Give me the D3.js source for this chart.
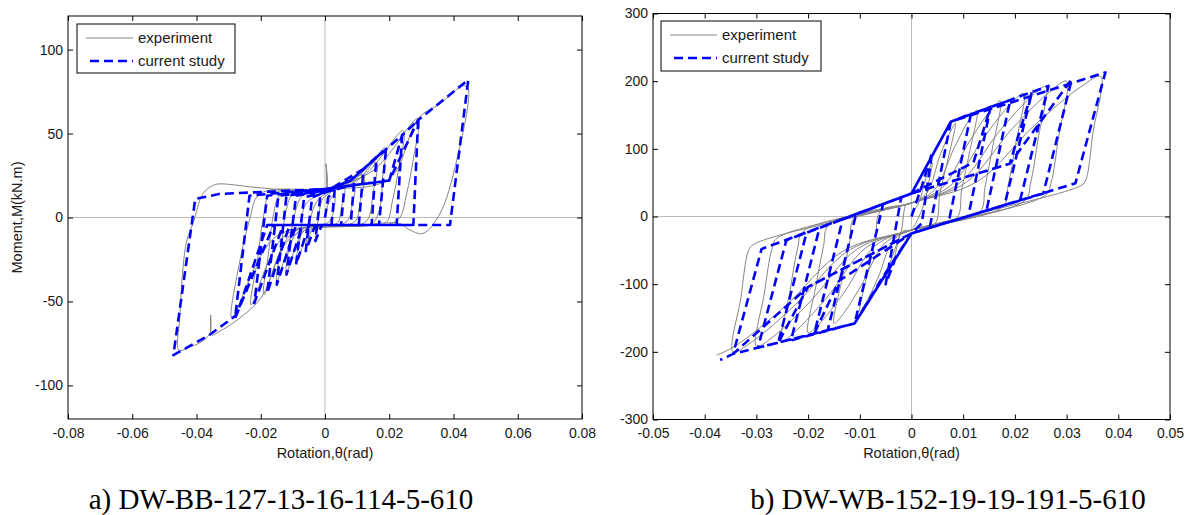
<!DOCTYPE html>
<html>
<head>
<meta charset="utf-8">
<script src="https://cdn.jsdelivr.net/npm/d3@7"></script>
<style>
  html, body { margin: 0; padding: 0; background: #fff; }
  svg { display: block; font-family: "Liberation Sans", Arial, sans-serif; }
</style>
</head>
<body>
<svg id="chart" width="1190" height="515"></svg>
<script>
// ---- data: [rotation (rad), moment (kN.m)] ----

const seriesNames = ['experiment', 'current study'];
const captions = ['a) DW-BB-127-13-16-114-5-610', 'b) DW-WB-152-19-19-191-5-610'];

const leftRotationTicks = [-0.08, -0.06, -0.04, -0.02, 0, 0.02, 0.04, 0.06, 0.08];
const leftMomentTicks = [-100, -50, 0, 50, 100];
const rightRotationTicks = [-0.05, -0.04, -0.03, -0.02, -0.01, 0, 0.01, 0.02, 0.03, 0.04, 0.05];
const rightMomentTicks = [-300, -200, -100, 0, 100, 200, 300];

const leftExperiment = [
  [0, 0], [0.001, 8], [0.003, 14], [0.0025, 2], [0.001, -3], [-0.002, -5], [-0.003, -12], [-0.002, 0], [-0.001, 10], [0.001, 14],
  [0.006, 18], [0.005, 5], [0.004, -3], [0, -5], [-0.004, -8], [-0.006, -18], [-0.005, -5], [-0.003, 8], [0, 14],
  [0.009, 19], [0.0085, 8], [0.007, -2], [0.003, -5], [-0.004, -7], [-0.009, -27], [-0.0075, -10], [-0.006, 8], [0, 15],
  [0.012, 25], [0.011, 10], [0.0095, -2], [0.005, -5], [-0.006, -7], [-0.012, -33], [-0.011, -15], [-0.009, 5], [-0.007, 13], [0, 16], [0.008, 21],
  [0.016, 33], [0.015, 15], [0.013, -2], [0.008, -5], [-0.008, -8], [-0.015, -38], [-0.0135, -15], [-0.012, 5], [-0.01, 14], [0, 16], [0.01, 22],
  [0.0187, 41.5], [0.018, 25], [0.017, 5], [0.015, -3], [0.01, -5], [-0.01, -9], [-0.019, -46], [-0.0175, -20], [-0.016, 2], [-0.014, 13], [0, 17], [0.012, 25],
  [0.0244, 51.8], [0.023, 30], [0.021, 10], [0.019, -3], [0.012, -5], [-0.012, -10], [-0.023, -52], [-0.021, -25], [-0.019, 2], [-0.017, 14], [0, 17], [0.015, 28],
  [0.029, 59], [0.0275, 35], [0.0254, 14], [0.0233, 0], [0.02, -4], [0.012, -5], [-0.015, -11], [-0.029, -60], [-0.0264, -25], [-0.0233, 0], [-0.0213, 12], [-0.018, 16], [0, 17], [0.02, 23], [0.029, 59],
  [0.036, 68], [0.043, 78.5], [0.0445, 77], [0.041, 34], [0.0358, 2.4], [0.0305, -9.5], [0.026, -7], [0.0233, -3.6], [0.01, -5],
  [-0.01, -11], [-0.02, -48], [-0.028, -62], [-0.033, -68], [-0.0352, -70], [-0.0356, -58], [-0.0358, -69], [-0.0389, -74.5], [-0.042, -77],
  [-0.0455, -79], [-0.0452, -60], [-0.0442, -30], [-0.043, -13.5], [-0.041, -3], [-0.038, 14.2], [-0.035, 19], [-0.033, 20], [-0.022, 18], [-0.01, 16], [0, 15], [0.0003, 32], [0.0006, 14]
];

const leftStudy = [
  [0, 0], [0.001, 12], [0.003, 16], [0.002, -4.5], [-0.001, -4.5], [-0.003, -14], [-0.0015, 12], [0, 15],
  [0.006, 18], [0.005, -4.5], [-0.003, -4.5], [-0.006, -20], [-0.004, 12], [0, 15],
  [0.009, 20], [0.008, -4.5], [-0.005, -4.5], [-0.009, -28], [-0.0065, 12], [0, 15],
  [0.012, 29], [0.0105, -4.5], [-0.007, -4.5], [-0.012, -34], [-0.009, 13], [0, 16], [0.008, 22],
  [0.016, 36], [0.0145, -4.5], [-0.009, -4.5], [-0.015, -40], [-0.012, 13], [0, 16], [0.008, 22],
  [0.019, 41], [0.0168, -4.5], [-0.011, -4.5], [-0.018, -45], [-0.0145, 13], [0, 16], [0.008, 22],
  [0.024, 49], [0.0223, -4.5], [-0.013, -4.5], [-0.022, -51], [-0.018, 13], [0, 17], [0.02, 22], [0.024, 49],
  [0.029, 58], [0.0275, -4.5], [-0.016, -4.5], [-0.028, -60], [-0.0235, 13], [0, 17], [0.02, 22], [0.029, 58],
  [0.0446, 82], [0.0389, -4.5], [-0.018, -4.5], [-0.0275, -58], [-0.036, -70], [-0.0472, -82],
  [-0.0404, 11], [-0.033, 14], [0, 17]
];

const rightExperiment = [
  [0, 5], [0.0014, 20], [0.0026, 52], [0.0036, 74], [0.004, 80], [0.0033, 48], [0.0025, 20], [0.0005, -15], [0, -20],
  [-0.00175, -22], [-0.00325, -58], [-0.0045, -84], [-0.005, -90], [-0.0035, -54], [-0.002, -22], [-0.001, 18], [0, 20],
  [0.003, 35], [0.0055, 90], [0.0077, 128], [0.0085, 138], [0.007, 83], [0.0055, 35], [0.0045, -11], [0, -20],
  [-0.0035, -35], [-0.0065, -91], [-0.009, -130], [-0.01, -140], [-0.0085, -84], [-0.007, -35], [-0.006, 8], [0, 20],
  [0.0044, 39], [0.0083, 102], [0.0114, 146], [0.0127, 157], [0.0112, 94], [0.0097, 39], [0.0087, -2.6], [0, -20],
  [-0.0052, -40], [-0.0098, -103], [-0.0135, -147], [-0.015, -158], [-0.0135, -95], [-0.012, -40], [-0.011, -2], [0, 20],
  [0.006, 43], [0.0112, 111], [0.0155, 159], [0.0172, 171], [0.0157, 103], [0.0142, 43], [0.0132, 6.4], [0, -20],
  [-0.007, -43], [-0.013, -112], [-0.018, -160], [-0.02, -172], [-0.0185, -103], [-0.017, -43], [-0.016, -12], [0, 20],
  [0.0076, 46], [0.0141, 118], [0.0195, 169], [0.0217, 182], [0.0202, 109], [0.0187, 46], [0.0177, 15], [0, -20],
  [-0.0088, -46], [-0.0163, -119], [-0.0225, -170], [-0.025, -183], [-0.0235, -110], [-0.022, -46], [-0.021, -22], [0, 20],
  [0.0091, 48], [0.0169, 125], [0.0234, 179], [0.026, 192], [0.0245, 115], [0.023, 48], [0.022, 24], [0, -20],
  [-0.0105, -48], [-0.0195, -125], [-0.027, -179], [-0.03, -192], [-0.0285, -115], [-0.027, -48], [-0.026, -32], [0, 20],
  [0.0105, 50], [0.0195, 130], [0.027, 186], [0.03, 200], [0.0285, 120], [0.027, 50], [0.026, 32], [0, -20],
  [-0.0121, -50], [-0.0224, -130], [-0.031, -186], [-0.0345, -200], [-0.033, -120], [-0.0315, -50], [-0.0305, -41], [0, 20],
  [0.0128, 52], [0.0238, 135], [0.033, 193], [0.0366, 207], [0.0351, 124], [0.0336, 52], [0.0326, 45], [0, -20],
  [-0.0132, -51], [-0.0245, -133], [-0.034, -191], [-0.0377, -205]
];

const rightStudy = [
  [0, 0], [0.002, 45], [0.004, 95], [0.002, -10], [0, -25], [-0.003, -60], [-0.005, -100], [-0.002, 28], [0, 34],
  [0.0076, 140], [0.0035, -17], [0, -25], [-0.006, -95], [-0.011, -158], [-0.0055, 18], [0, 34],
  [0.0076, 140], [0.0115, 152], [0.0072, -8], [0, -25], [-0.011, -158], [-0.0162, -168], [-0.0107, 4], [0, 34],
  [0.012, 80], [0.0153, 162], [0.011, 0.6], [0, -25], [-0.014, -95], [-0.0188, -173], [-0.0133, -4], [0, 34],
  [0.0076, 140], [0.0153, 162], [0.0191, 172], [0.0145, 8.7], [0, -25], [-0.011, -158], [-0.0233, -183], [-0.0178, -17], [0, 34],
  [0.019, 78], [0.0233, 184], [0.018, 17], [0, -25], [-0.02, -104], [-0.0258, -187], [-0.0203, -24], [0, 34],
  [0.0076, 140], [0.0265, 193], [0.021, 24], [0, -25], [-0.011, -158], [-0.0297, -194], [-0.0242, -35], [0, 34],
  [0.019, 78], [0.031, 203], [0.0255, 34], [0, -25], [-0.02, -104], [-0.0345, -203], [-0.029, -48], [0, 34],
  [0.0076, 140], [0.0375, 213], [0.0317, 49], [0, -25], [-0.011, -158], [-0.0345, -203], [-0.037, -212]
];

// ---- layout ----

const COLORS = { experiment: '#858585', study: '#0000ff', zero: '#bdbdbd', ink: '#1a1a1a' };
const TICK = 5;

const panels = [
  {
    box: { left: 68, top: 16, right: 582, bottom: 419 },
    xDomain: [-0.08, 0.08], yDomain: [-120, 120],
    xTicks: leftRotationTicks, yTicks: leftMomentTicks,
    experiment: leftExperiment, study: leftStudy,
    legend: { x: 77, y: 24, w: 158, h: 49 },
    yLabel: 'Moment,M(kN.m)',
    caption: captions[0], captionX: 281
  },
  {
    box: { left: 653, top: 13.5, right: 1170, bottom: 419.5 },
    xDomain: [-0.05, 0.05], yDomain: [-300, 300],
    xTicks: rightRotationTicks, yTicks: rightMomentTicks,
    experiment: rightExperiment, study: rightStudy,
    legend: { x: 661, y: 21, w: 160, h: 50 },
    yLabel: null,
    caption: captions[1], captionX: 948
  }
];

const svg = d3.select('#chart');

panels.forEach((p, i) => drawPanel(p, i));

function drawPanel(p, i) {
  const { left, top, right, bottom } = p.box;
  const x = d3.scaleLinear().domain(p.xDomain).range([left, right]);
  const y = d3.scaleLinear().domain(p.yDomain).range([bottom, top]);
  const g = svg.append('g').attr('class', `panel panel-${i}`);

  g.append('clipPath').attr('id', `clip-${i}`)
    .append('rect')
    .attr('x', left).attr('y', top)
    .attr('width', right - left).attr('height', bottom - top);

  // zero lines
  g.append('line')
    .attr('x1', left).attr('x2', right)
    .attr('y1', y(0)).attr('y2', y(0))
    .attr('stroke', COLORS.zero).attr('stroke-width', 1);
  g.append('line')
    .attr('x1', x(0)).attr('x2', x(0))
    .attr('y1', top).attr('y2', bottom)
    .attr('stroke', COLORS.zero).attr('stroke-width', 1);

  const plot = g.append('g').attr('clip-path', `url(#clip-${i})`);

  const expLine = d3.line()
    .x((d) => x(d[0])).y((d) => y(d[1]))
    .curve(d3.curveCatmullRom.alpha(0.5));
  const studyLine = d3.line()
    .x((d) => x(d[0])).y((d) => y(d[1]));

  plot.append('path')
    .datum(p.experiment)
    .attr('d', expLine)
    .attr('fill', 'none')
    .attr('stroke', COLORS.experiment)
    .attr('stroke-width', 1);

  plot.append('path')
    .datum(p.study)
    .attr('d', studyLine)
    .attr('fill', 'none')
    .attr('stroke', COLORS.study)
    .attr('stroke-width', 2.6)
    .attr('stroke-dasharray', '9,5')
    .attr('stroke-linejoin', 'round');

  // axes, MATLAB style: ticks inside on all four sides
  const fmt = (d) => String(d);
  const styleAxis = (sel) => {
    sel.select('.domain').remove();
    sel.selectAll('.tick line').attr('stroke', '#000');
    sel.selectAll('.tick text')
      .attr('fill', COLORS.ink)
      .style('font-size', '14px');
  };

  g.append('g')
    .attr('transform', `translate(0,${bottom})`)
    .call(d3.axisBottom(x).tickValues(p.xTicks).tickFormat(fmt)
      .tickSizeInner(-TICK).tickSizeOuter(0).tickPadding(9))
    .call(styleAxis);
  g.append('g')
    .attr('transform', `translate(0,${top})`)
    .call(d3.axisTop(x).tickValues(p.xTicks).tickFormat('')
      .tickSizeInner(-TICK).tickSizeOuter(0))
    .call(styleAxis);
  g.append('g')
    .attr('transform', `translate(${left},0)`)
    .call(d3.axisLeft(y).tickValues(p.yTicks).tickFormat(fmt)
      .tickSizeInner(-TICK).tickSizeOuter(0).tickPadding(5))
    .call(styleAxis);
  g.append('g')
    .attr('transform', `translate(${right},0)`)
    .call(d3.axisRight(y).tickValues(p.yTicks).tickFormat('')
      .tickSizeInner(-TICK).tickSizeOuter(0))
    .call(styleAxis);

  g.append('rect')
    .attr('x', left).attr('y', top)
    .attr('width', right - left).attr('height', bottom - top)
    .attr('fill', 'none')
    .attr('stroke', '#000')
    .attr('stroke-width', 1);

  // axis labels
  g.append('text')
    .attr('x', x(0)).attr('y', 458)
    .attr('text-anchor', 'middle')
    .attr('fill', COLORS.ink)
    .style('font-size', '14.5px')
    .text('Rotation,θ(rad)');

  if (p.yLabel) {
    g.append('text')
      .attr('transform', `translate(22,${y(0)}) rotate(-90)`)
      .attr('text-anchor', 'middle')
      .attr('fill', COLORS.ink)
      .style('font-size', '14.5px')
      .text(p.yLabel);
  }

  // legend
  const L = p.legend;
  const lg = g.append('g').attr('transform', `translate(${L.x},${L.y})`);
  lg.append('rect')
    .attr('width', L.w).attr('height', L.h)
    .attr('fill', '#fff').attr('stroke', '#000').attr('stroke-width', 1);
  const rows = [
    { name: seriesNames[0], color: COLORS.experiment, width: 1, dash: null, x1: 9, cy: 14 },
    { name: seriesNames[1], color: COLORS.study, width: 2.6, dash: '9,5', x1: 13, cy: 37 }
  ];
  rows.forEach((r) => {
    lg.append('line')
      .attr('x1', r.x1).attr('x2', 56)
      .attr('y1', r.cy).attr('y2', r.cy)
      .attr('stroke', r.color)
      .attr('stroke-width', r.width)
      .attr('stroke-dasharray', r.dash);
    lg.append('text')
      .attr('x', 61).attr('y', r.cy)
      .attr('dy', '0.35em')
      .attr('fill', COLORS.ink)
      .style('font-size', '15px')
      .text(r.name);
  });

  // caption below the panel
  svg.append('text')
    .attr('x', p.captionX).attr('y', 509)
    .attr('text-anchor', 'middle')
    .attr('fill', '#000')
    .style('font-family', '"Liberation Serif", "Times New Roman", serif')
    .style('font-size', '29px')
    .text(p.caption);
}
</script>
</body>
</html>
